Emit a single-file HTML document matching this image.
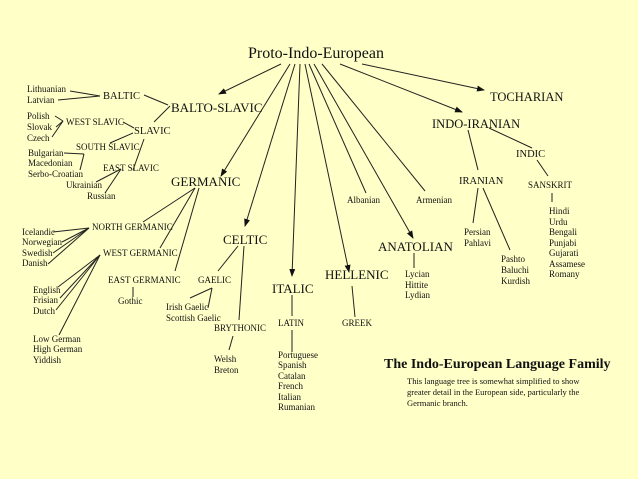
<!DOCTYPE html>
<html><head><meta charset="utf-8"><style>
html,body{margin:0;padding:0;background:#ffffc8;}
svg{display:block;font-family:"Liberation Serif",serif;fill:#111;}
.s{font-size:9px}.m{font-size:10.5px}.l{font-size:13px}
line{stroke:#222;stroke-width:1}
</style></head><body>
<svg width="638" height="479" viewBox="0 0 638 479" xmlns="http://www.w3.org/2000/svg">
<defs><marker id="a" markerWidth="8" markerHeight="6" refX="7" refY="3" orient="auto" markerUnits="userSpaceOnUse"><path d="M0,0 L8,3 L0,6 z" fill="#111"/></marker></defs>
<rect width="638" height="479" fill="#ffffc8"/>
<text x="248" y="58" style="font-size:16px">Proto-Indo-European</text>
<line x1="281" y1="64" x2="219" y2="94" marker-end="url(#a)"/>
<line x1="290" y1="64" x2="221" y2="176" marker-end="url(#a)"/>
<line x1="295" y1="64" x2="245" y2="226" marker-end="url(#a)"/>
<line x1="300" y1="64" x2="292" y2="276" marker-end="url(#a)"/>
<line x1="305" y1="64" x2="349" y2="272" marker-end="url(#a)"/>
<line x1="309" y1="64" x2="366" y2="193"/>
<line x1="314" y1="64" x2="413" y2="238" marker-end="url(#a)"/>
<line x1="322" y1="64" x2="425" y2="191"/>
<line x1="340" y1="64" x2="462" y2="112" marker-end="url(#a)"/>
<line x1="362" y1="64" x2="484" y2="90" marker-end="url(#a)"/>
<text x="171" y="112" class="l">BALTO-SLAVIC</text>
<text x="103" y="99" class="m">BALTIC</text>
<text x="27" y="92" class="s">Lithuanian</text>
<text x="27" y="103" class="s">Latvian</text>
<line x1="70" y1="91" x2="100" y2="96"/><line x1="58" y1="100" x2="100" y2="96"/>
<line x1="144" y1="95" x2="168" y2="105"/><line x1="154" y1="122" x2="170" y2="106"/>
<text x="27" y="119" class="s">Polish</text><text x="27" y="130" class="s">Slovak</text><text x="27" y="141" class="s">Czech</text>
<line x1="55" y1="116" x2="63" y2="121"/><line x1="56" y1="127" x2="63" y2="121"/><line x1="52" y1="137" x2="63" y2="121"/>
<text x="66" y="125" class="s">WEST SLAVIC</text>
<text x="134" y="134" class="m">SLAVIC</text>
<line x1="123" y1="122" x2="134" y2="128"/>
<text x="76" y="150" class="s">SOUTH SLAVIC</text>
<line x1="110" y1="143" x2="133" y2="133"/>
<text x="28" y="156" class="s">Bulgarian</text><text x="28" y="166" class="s">Macedonian</text><text x="28" y="177" class="s">Serbo-Croatian</text>
<line x1="64" y1="153" x2="84" y2="154"/><line x1="80" y1="170" x2="84" y2="154"/>
<text x="103" y="171" class="s">EAST SLAVIC</text>
<line x1="144" y1="139" x2="133" y2="170"/>
<text x="66" y="188" class="s">Ukrainian</text><text x="87" y="199" class="s">Russian</text>
<line x1="96" y1="182" x2="121" y2="169"/><line x1="105" y1="193" x2="121" y2="169"/>
<text x="171" y="186" class="l">GERMANIC</text>
<text x="92" y="230" class="s">NORTH GERMANIC</text>
<line x1="143" y1="222" x2="195" y2="188"/>
<text x="22" y="235" class="s">Icelandic</text><text x="22" y="245" class="s">Norwegian</text><text x="22" y="256" class="s">Swedish</text><text x="22" y="266" class="s">Danish</text>
<line x1="53" y1="232" x2="89" y2="228"/><line x1="62" y1="242" x2="89" y2="228"/><line x1="53" y1="253" x2="89" y2="228"/><line x1="48" y1="264" x2="89" y2="228"/>
<text x="103" y="256" class="s">WEST GERMANIC</text>
<line x1="160" y1="248" x2="195" y2="188"/>
<text x="33" y="293" class="s">English</text><text x="33" y="303" class="s">Frisian</text><text x="33" y="314" class="s">Dutch</text>
<text x="33" y="342" class="s">Low German</text><text x="33" y="352" class="s">High German</text><text x="33" y="363" class="s">Yiddish</text>
<line x1="58" y1="287" x2="100" y2="255"/><line x1="60" y1="298" x2="100" y2="255"/><line x1="56" y1="310" x2="100" y2="255"/><line x1="59" y1="335" x2="100" y2="255"/>
<text x="108" y="283" class="s">EAST GERMANIC</text>
<line x1="175" y1="271" x2="199" y2="188"/>
<text x="118" y="304" class="s">Gothic</text>
<line x1="133" y1="287" x2="133" y2="297"/>
<text x="223" y="244" class="l">CELTIC</text>
<text x="198" y="283" class="s">GAELIC</text>
<line x1="218" y1="271" x2="238" y2="246"/>
<text x="166" y="310" class="s">Irish Gaelic</text><text x="166" y="321" class="s">Scottish Gaelic</text>
<line x1="190" y1="298" x2="212" y2="288"/><line x1="208" y1="308" x2="212" y2="288"/>
<text x="214" y="331" class="s">BRYTHONIC</text>
<line x1="244" y1="246" x2="239" y2="320"/>
<text x="214" y="362" class="s">Welsh</text><text x="214" y="373" class="s">Breton</text>
<line x1="229" y1="350" x2="233" y2="336"/>
<text x="272" y="293" class="l">ITALIC</text>
<line x1="292" y1="295" x2="292" y2="316"/>
<text x="278" y="326" class="s">LATIN</text>
<line x1="292" y1="330" x2="292" y2="352"/>
<text x="278" y="358" class="s">Portuguese</text><text x="278" y="368" class="s">Spanish</text><text x="278" y="379" class="s">Catalan</text><text x="278" y="389" class="s">French</text><text x="278" y="400" class="s">Italian</text><text x="278" y="410" class="s">Rumanian</text>
<text x="325" y="279" class="l">HELLENIC</text>
<line x1="352" y1="286" x2="355" y2="317"/>
<text x="342" y="326" class="s">GREEK</text>
<text x="347" y="203" class="s">Albanian</text>
<text x="416" y="203" class="s">Armenian</text>
<text x="378" y="251" class="l">ANATOLIAN</text>
<line x1="414" y1="253" x2="414" y2="268"/>
<text x="405" y="277" class="s">Lycian</text><text x="405" y="288" class="s">Hittite</text><text x="405" y="298" class="s">Lydian</text>
<text x="490" y="101" style="font-size:12.5px">TOCHARIAN</text>
<text x="432" y="128" style="font-size:12.5px">INDO-IRANIAN</text>
<text x="459" y="184" class="m">IRANIAN</text>
<line x1="468" y1="130" x2="478" y2="170"/>
<text x="516" y="157" class="m">INDIC</text>
<line x1="489" y1="128" x2="532" y2="148"/>
<text x="528" y="188" class="s">SANSKRIT</text>
<line x1="537" y1="160" x2="548" y2="176"/>
<line x1="552" y1="193" x2="552" y2="202"/>
<text x="549" y="214" class="s">Hindi</text><text x="549" y="225" class="s">Urdu</text><text x="549" y="235" class="s">Bengali</text><text x="549" y="246" class="s">Punjabi</text><text x="549" y="256" class="s">Gujarati</text><text x="549" y="267" class="s">Assamese</text><text x="549" y="277" class="s">Romany</text>
<line x1="478" y1="188" x2="473" y2="223"/><line x1="483" y1="188" x2="510" y2="250"/>
<text x="464" y="235" class="s">Persian</text><text x="464" y="246" class="s">Pahlavi</text>
<text x="501" y="262" class="s">Pashto</text><text x="501" y="273" class="s">Baluchi</text><text x="501" y="284" class="s">Kurdish</text>
<text x="384" y="368" style="font-size:14px;font-weight:bold">The Indo-European Language Family</text>
<text x="407" y="384" style="font-size:8.5px">This language tree is somewhat simplified to show</text>
<text x="407" y="395" style="font-size:8.5px">greater detail in the European side, particularly the</text>
<text x="407" y="406" style="font-size:8.5px">Germanic branch.</text>
</svg>
</body></html>
